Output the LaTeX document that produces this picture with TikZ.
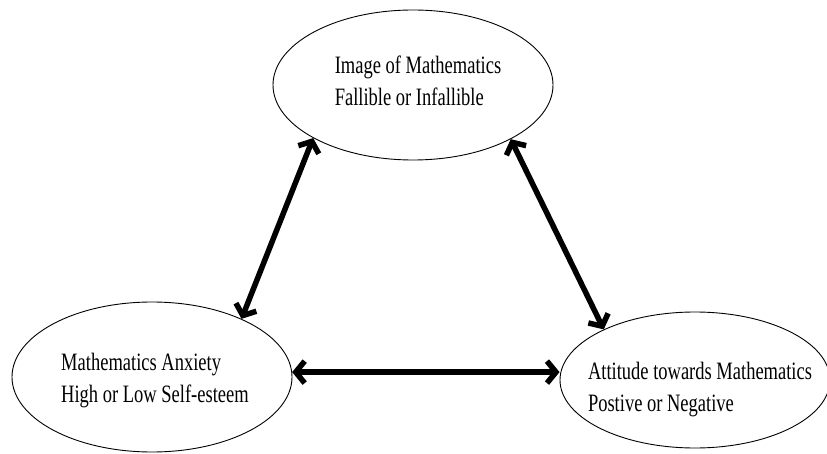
\documentclass[tikz,border=0pt]{standalone}
\usepackage{fontspec}
\setmainfont{Liberation Serif}[FakeStretch=0.74]
\usetikzlibrary{shapes.geometric,arrows.meta}

\begin{document}
\begin{tikzpicture}[x=1pt,y=-1pt]
	\tikzstyle{bubble} = [ellipse, draw=black, line width=0.9pt, inner sep=0pt];
	\tikzstyle{caption} = [align=left, inner sep=0pt, font=\fontsize{25}{32}\selectfont];
	\tikzstyle{link} = [line width=5.5pt, {Straight Barb[length=9pt,width=22pt]}-{Straight Barb[length=9pt,width=22pt]}];

	\useasboundingbox (0,0) rectangle (827,454);

	\node[bubble, minimum width=280pt, minimum height=150pt] at (413, 85) (img) {};
	\node[bubble, minimum width=280pt, minimum height=150pt] at (152, 377) (anx) {};
	\node[bubble, minimum width=270pt, minimum height=136pt] at (695, 380) (att) {};

	\node[caption] at (418, 81) (imgtext) {Image of Mathematics\\Fallible or Infallible};
	\node[caption] at (155, 381) (anxtext) {Mathematics Anxiety\\High or Low Self-esteem};
	\node[caption] at (700, 390) (atttext) {Attitude towards Mathematics\\Postive or Negative};

	\draw[link] (img.208) -- (anx.33);
	\draw[link] (img.331) -- (att.151);
	\draw[link] (anx.2) -- (anx.2 -| att.west);

\end{tikzpicture}
\end{document}
